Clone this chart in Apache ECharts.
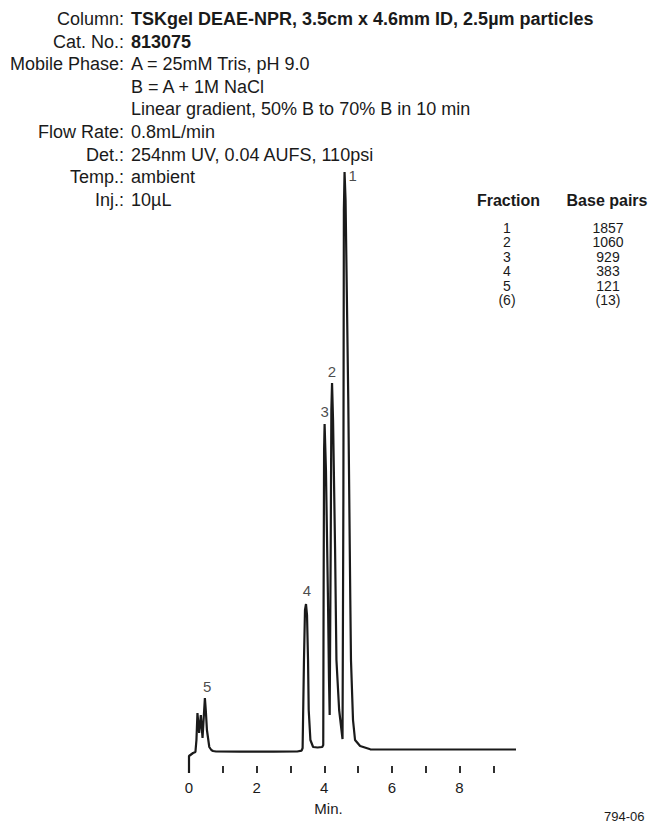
<!DOCTYPE html>
<html>
<head>
<meta charset="utf-8">
<script src="https://cdn.jsdelivr.net/npm/echarts@6/dist/echarts.min.js"></script>
<style>html,body{margin:0;padding:0;background:#fff}#c{width:649px;height:824px}</style>
</head>
<body>
<div id="c"></div>
<script>
// ---- data ----
const timeMin = [0.00,0.00,0.12,0.19,0.22,0.25,0.30,0.35,0.40,0.44,0.47,0.50,0.53,0.60,0.66,0.71,0.80,1.50,2.50,3.20,3.33,
  3.36,3.40,3.43,3.46,3.49,3.52,3.54,3.59,3.67,3.80,3.94,
  3.97,3.98,3.995,4.01,4.05,4.11,4.14,4.16,
  4.19,4.21,4.23,4.26,4.32,4.36,4.44,4.54,
  4.565,4.58,4.60,4.63,4.67,4.71,4.74,4.77,4.79,4.85,4.91,5.06,5.36,6.50,9.67];
const signal = [-23,-6,-3,-2,10,37,17,35,12,35,52,38,20,3,0,-1,-1.5,-1.7,-1.7,-1.5,-0.7,
  2,90,140,146,135,90,40,10,3,2.5,3,
  5,150,300,326,280,150,70,35,
  200,340,367,330,200,90,40,11,
  250,540,578,550,450,350,250,150,90,30,10,4,0.7,0.5,0.5];
const peakNames = ['1','2','3','4','5'];
const peakLabelTime = [4.84,4.23,4.01,3.49,0.54];
const peakLabelValue = [575,379,339,160,64];
const tickValues = [0,1,2,3,4,5,6,7,8,9];
const tickLabels = [0,2,4,6,8];
const headerLabels = ['Column:','Cat. No.:','Mobile Phase:','','','Flow Rate:','Det.:','Temp.:','Inj.:'];
const headerValues = ['TSKgel DEAE-NPR, 3.5cm x 4.6mm ID, 2.5µm particles','813075','A = 25mM Tris, pH 9.0','B = A + 1M NaCl','Linear gradient, 50% B to 70% B in 10 min','0.8mL/min','254nm UV, 0.04 AUFS, 110psi','ambient','10µL'];
const headerBold = [true,true,false,false,false,false,false,false,false];
const fractionIds = ['1','2','3','4','5','(6)'];
const basePairs = ['1857','1060','929','383','121','(13)'];

const FF = '"Liberation Sans", Arial, Helvetica, sans-serif';
const INK = '#1a1a1a';

const graphics = [];
headerLabels.forEach((t, i) => {
  const y = 19 + i * 22.6;
  if (t) graphics.push({type:'text', style:{text:t, x:124, y:y, align:'right', verticalAlign:'middle', font:'18px ' + FF, fill:INK}});
  graphics.push({type:'text', style:{text:headerValues[i], x:131, y:y, align:'left', verticalAlign:'middle', font:(headerBold[i]?'bold ':'') + '18px ' + FF, fill:INK}});
});
graphics.push({type:'text', style:{text:'Fraction', x:508.5, y:200, align:'center', verticalAlign:'middle', font:'bold 16px ' + FF, fill:INK}});
graphics.push({type:'text', style:{text:'Base pairs', x:607, y:200, align:'center', verticalAlign:'middle', font:'bold 16px ' + FF, fill:INK}});
fractionIds.forEach((f, i) => {
  const y = 227.7 + i * 14.5;
  graphics.push({type:'text', style:{text:f, x:507, y:y, align:'center', verticalAlign:'middle', font:'14px ' + FF, lineHeight:13, fill:INK}});
  graphics.push({type:'text', style:{text:basePairs[i], x:608, y:y, align:'center', verticalAlign:'middle', font:'14px ' + FF, lineHeight:13, fill:INK}});
});
graphics.push({type:'text', style:{text:'Min.', x:328.5, y:808, align:'center', verticalAlign:'middle', font:'15px ' + FF, fill:INK}});
graphics.push({type:'text', style:{text:'794-06', x:604, y:810, align:'left', verticalAlign:'top', font:'13px ' + FF, fill:INK}});

const chart = echarts.init(document.getElementById('c'), null, {renderer:'svg'});
chart.setOption({
  animation:false,
  backgroundColor:'#fff',
  grid:{left:189, right:133, top:170, bottom:51, containLabel:false},
  xAxis:{type:'value', min:0, max:9.67,
    axisLine:{show:false, onZero:false},
    splitLine:{show:false},
    axisTick:{show:true, inside:true, length:7, customValues:tickValues, lineStyle:{color:INK, width:1.8}},
    axisLabel:{show:true, customValues:tickLabels, margin:7, fontSize:15, fontFamily:FF, color:INK}
  },
  yAxis:{type:'value', min:-23, max:580, show:false},
  series:[
    {type:'line', data:timeMin.map((t,i)=>[t, signal[i]]), showSymbol:false, symbol:'none',
      lineStyle:{color:INK, width:2.2}, smooth:false, z:2},
    {type:'scatter', data:peakNames.map((n,i)=>({name:n, value:[peakLabelTime[i], peakLabelValue[i]]})),
      symbolSize:1, itemStyle:{color:'rgba(0,0,0,0)'},
      label:{show:true, position:'inside', formatter:'{b}', fontSize:15, fontFamily:FF, color:INK}, z:3}
  ],
  graphic:graphics
});
</script>
</body>
</html>
